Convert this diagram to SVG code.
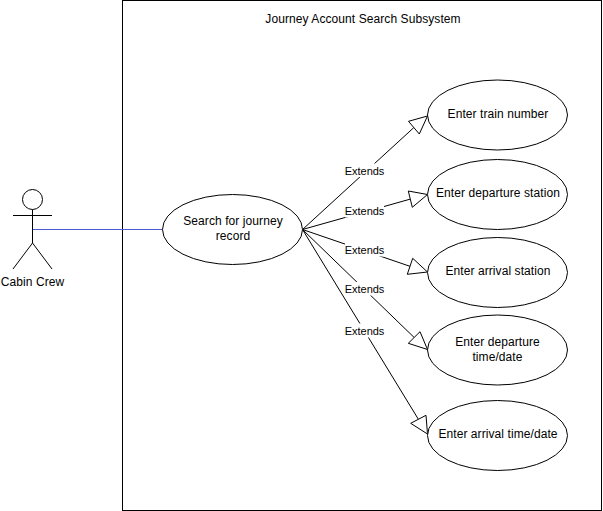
<svg xmlns="http://www.w3.org/2000/svg" width="603" height="511" viewBox="0 0 603 511">
<style>
text{font-family:"Liberation Sans",Arial,sans-serif;font-size:12px;fill:#000;text-anchor:middle;letter-spacing:.08px}
text.x{font-size:11px;letter-spacing:0}
.s{fill:none;stroke:#000;stroke-width:1}
.e{fill:#fff;stroke:#000;stroke-width:1}
.l{fill:#fff;stroke:none}
.h{fill:#fff;stroke:#000;stroke-width:1}
</style>
<rect width="603" height="511" fill="#fff"/>
<g id="system"><rect class="s" x="122.500" y="0.500" width="479" height="510"/><text x="363" y="23">Journey Account Search Subsystem</text></g>
<g id="connectors">
<path d="M32.500 229.500H162.500" fill="none" stroke="#4f5bd5" stroke-width="1"/>
<path class="s" d="M302.500 229.500L413.800 127.600"/><path class="h" d="M427.500 116L408.500 121.300L419.300 134Z"/>
<path class="s" d="M302.500 229.500L410.300 199.100"/><path class="h" d="M427.500 194.500L408.300 191L412.300 207.300Z"/>
<path class="s" d="M302.500 229.500L410 266.300"/><path class="h" d="M427.500 272L412.700 258.300L407.300 274.300Z"/>
<path class="s" d="M302.500 229.500L414.200 337.500"/><path class="h" d="M427.500 349.500L420 331.700L408.300 343.300Z"/>
<path class="s" d="M302.500 229.500L418.400 419.300"/><path class="h" d="M427.500 434L426 415.300L410.700 423.300Z"/>
<rect class="l" x="345" y="163.500" width="39" height="13.500"/><text class="x" x="364.500" y="175">Extends</text>
<rect class="l" x="345" y="204" width="39" height="13.500"/><text class="x" x="364.500" y="215">Extends</text>
<rect class="l" x="345" y="243" width="39" height="13.500"/><text class="x" x="364.500" y="254">Extends</text>
<rect class="l" x="345" y="282" width="39" height="13.500"/><text class="x" x="364.500" y="293">Extends</text>
<rect class="l" x="345" y="323.500" width="39" height="14"/><text class="x" x="364.500" y="335">Extends</text>
</g>
<g id="actor"><circle class="s" cx="32.500" cy="199.500" r="10"/><path class="s" d="M32.500 209.500V243M13 215.500H52M32.500 243L13 269M32.500 243L52 269"/><text x="32.500" y="286">Cabin Crew</text></g>
<g id="search"><ellipse class="e" cx="232.500" cy="229.500" rx="70" ry="35"/><text x="233" y="225">Search for journey</text><text x="233" y="240">record</text></g>
<g id="train"><ellipse class="e" cx="497.500" cy="115" rx="70" ry="35"/><text x="498" y="118">Enter train number</text></g>
<g id="dep"><ellipse class="e" cx="497.500" cy="194.500" rx="70" ry="35"/><text x="498" y="197">Enter departure station</text></g>
<g id="arr"><ellipse class="e" cx="497.500" cy="272.500" rx="70" ry="35"/><text x="498" y="275">Enter arrival station</text></g>
<g id="deptime"><ellipse class="e" cx="497.500" cy="350" rx="70" ry="35"/><text x="497.500" y="346">Enter departure</text><text x="497.500" y="361">time/date</text></g>
<g id="arrtime"><ellipse class="e" cx="497.500" cy="435.500" rx="70" ry="35"/><text x="498" y="438">Enter arrival time/date</text></g>
</svg>
